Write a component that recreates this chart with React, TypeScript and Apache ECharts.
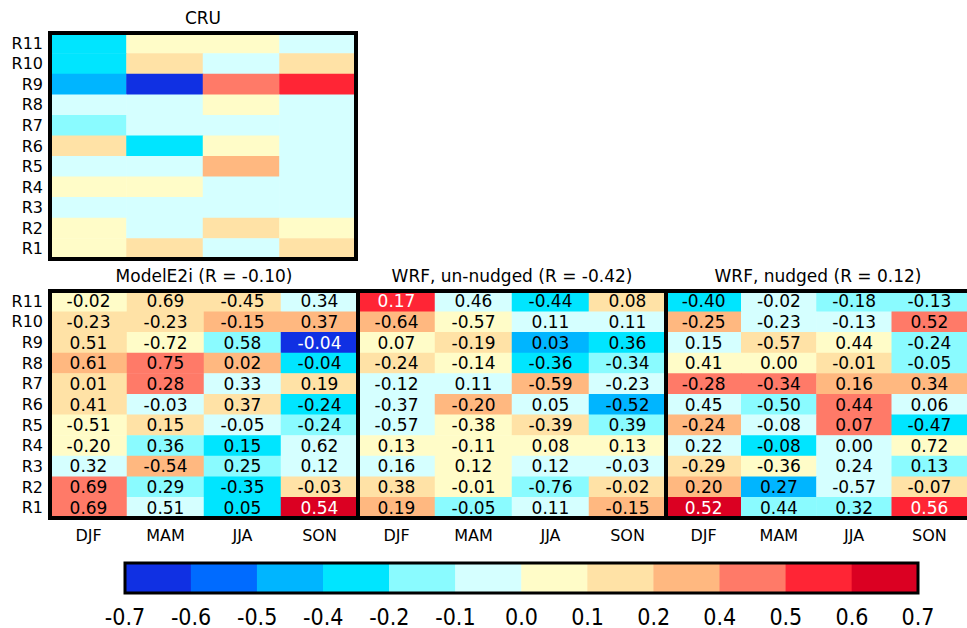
import React, { useEffect, useRef } from "react";
import * as echarts from "echarts";

// ---------- data ----------
const seasons = ["DJF", "MAM", "JJA", "SON"];
const regions = ["R1", "R2", "R3", "R4", "R5", "R6", "R7", "R8", "R9", "R10", "R11"];

// colour-bar bin boundaries and tick labels
const bounds = [-0.7, -0.6, -0.5, -0.4, -0.2, -0.1, 0.0, 0.1, 0.2, 0.4, 0.5, 0.6, 0.7];
const boundLabels = ["-0.7", "-0.6", "-0.5", "-0.4", "-0.2", "-0.1", "0.0", "0.1", "0.2", "0.4", "0.5", "0.6", "0.7"];

// rows listed top (R11) to bottom (R1); columns DJF, MAM, JJA, SON
const cruBias = [
  [-0.3, 0.05, 0.05, -0.05],
  [-0.3, 0.15, -0.05, 0.15],
  [-0.45, -0.65, 0.45, 0.55],
  [-0.05, -0.05, 0.05, -0.05],
  [-0.15, -0.05, -0.05, -0.05],
  [0.15, -0.3, 0.05, -0.05],
  [-0.05, -0.05, 0.3, -0.05],
  [0.05, 0.05, -0.05, -0.05],
  [-0.05, -0.05, -0.05, -0.05],
  [0.05, -0.05, 0.15, 0.05],
  [0.05, 0.15, -0.05, 0.15],
];

const modelBias = [
  [0.05, 0.15, 0.15, -0.05],
  [0.15, 0.15, 0.3, 0.3],
  [0.15, 0.05, -0.15, -0.65],
  [0.3, 0.45, 0.3, -0.3],
  [0.15, 0.45, -0.05, 0.15],
  [0.15, -0.05, 0.15, -0.3],
  [0.05, 0.15, -0.05, -0.15],
  [0.05, -0.15, -0.3, -0.05],
  [-0.05, 0.3, -0.15, -0.05],
  [0.45, -0.15, -0.3, 0.15],
  [0.45, -0.05, -0.3, 0.65],
];
const modelR = [
  [-0.02, 0.69, -0.45, 0.34],
  [-0.23, -0.23, -0.15, 0.37],
  [0.51, -0.72, 0.58, -0.04],
  [0.61, 0.75, 0.02, -0.04],
  [0.01, 0.28, 0.33, 0.19],
  [0.41, -0.03, 0.37, -0.24],
  [-0.51, 0.15, -0.05, -0.24],
  [-0.2, 0.36, 0.15, 0.62],
  [0.32, -0.54, 0.25, 0.12],
  [0.69, 0.29, -0.35, -0.03],
  [0.69, 0.51, 0.05, 0.54],
];

const unBias = [
  [0.55, -0.05, -0.3, 0.15],
  [0.3, 0.05, -0.05, -0.05],
  [0.05, 0.15, -0.45, -0.3],
  [0.15, 0.05, -0.3, -0.15],
  [-0.05, -0.05, 0.3, -0.05],
  [-0.05, 0.3, -0.05, -0.45],
  [-0.05, 0.05, 0.15, -0.15],
  [0.05, 0.05, 0.05, 0.05],
  [-0.05, 0.05, -0.05, -0.05],
  [0.15, 0.05, -0.15, 0.15],
  [0.3, -0.15, -0.05, 0.3],
];
const unR = [
  [0.17, 0.46, -0.44, 0.08],
  [-0.64, -0.57, 0.11, 0.11],
  [0.07, -0.19, 0.03, 0.36],
  [-0.24, -0.14, -0.36, -0.34],
  [-0.12, 0.11, -0.59, -0.23],
  [-0.37, -0.2, 0.05, -0.52],
  [-0.57, -0.38, -0.39, 0.39],
  [0.13, -0.11, 0.08, 0.13],
  [0.16, 0.12, 0.12, -0.03],
  [0.38, -0.01, -0.76, -0.02],
  [0.19, -0.05, 0.11, -0.15],
];

const nuBias = [
  [-0.3, -0.05, -0.15, -0.15],
  [0.3, -0.05, -0.05, 0.45],
  [-0.05, 0.15, 0.05, -0.15],
  [0.05, 0.05, 0.15, -0.15],
  [0.45, 0.45, 0.3, 0.3],
  [-0.05, -0.15, 0.45, -0.05],
  [0.3, -0.05, 0.45, -0.3],
  [-0.05, -0.3, -0.05, 0.05],
  [0.15, 0.05, -0.05, -0.15],
  [0.3, -0.45, -0.05, 0.15],
  [0.65, -0.15, -0.15, 0.55],
];
const nuR = [
  [-0.4, -0.02, -0.18, -0.13],
  [-0.25, -0.23, -0.13, 0.52],
  [0.15, -0.57, 0.44, -0.24],
  [0.41, 0.0, -0.01, -0.05],
  [-0.28, -0.34, 0.16, 0.34],
  [0.45, -0.5, 0.44, 0.06],
  [-0.24, -0.08, 0.07, -0.47],
  [0.22, -0.08, 0.0, 0.72],
  [-0.29, -0.36, 0.24, 0.13],
  [0.2, 0.27, -0.57, -0.07],
  [0.52, 0.44, 0.32, 0.56],
];

const titles = ["CRU", "ModelE2i (R = -0.10)", "WRF, un-nudged (R = -0.42)", "WRF, nudged (R = 0.12)"];

// ---------- styles ----------
const palette = [
  "#1030E3", "#006BFF", "#00B5FF", "#00E5FF", "#8AFBFF", "#D5FFFF",
  "#FFFCC8", "#FFE2A6", "#FFB880", "#FF7A68", "#FF2535", "#DB0022",
];
const FONT = "DejaVu Sans";
const NARROW = "'Liberation Sans Narrow', 'DejaVu Sans Condensed', 'Arial Narrow', sans-serif";

function buildData(bias: number[][], r: number[][] | null) {
  const out: any[] = [];
  bias.forEach((row, i) => {
    row.forEach((b, j) => {
      const y = regions.length - 1 - i;
      const item: any = { value: [j, y, b, r ? r[i][j] : null] };
      if (r) item.label = { color: b <= -0.5 || b >= 0.5 ? "#ffffff" : "#000000" };
      out.push(item);
    });
  });
  return out;
}

export default function App() {
  const ref = useRef<HTMLDivElement>(null);
  useEffect(() => {
    if (!ref.current) return;
    const chart = echarts.init(ref.current, undefined, { renderer: "svg" });

    const panels = [
      { left: 50, top: 33, width: 306, height: 226, bias: cruBias, r: null as any, xl: false },
      { left: 50, top: 291, width: 308, height: 227, bias: modelBias, r: modelR, xl: true },
      { left: 358, top: 291, width: 308, height: 227, bias: unBias, r: unR, xl: true },
      { left: 666, top: 291, width: 308, height: 227, bias: nuBias, r: nuR, xl: true },
    ];
    const cb = { left: 125, top: 563, width: 793, height: 30 };

    const grids: any[] = panels.map((p) => ({ left: p.left, top: p.top, width: p.width, height: p.height }));
    grids.push({ left: cb.left, top: cb.top, width: cb.width, height: cb.height });

    const xAxes: any[] = panels.map((p, i) => ({
      type: "category",
      gridIndex: i,
      data: seasons,
      axisLine: { show: false },
      axisTick: { show: false },
      axisLabel: { show: p.xl, interval: 0, fontSize: 16, color: "#000", fontFamily: FONT, margin: 9 },
      splitLine: { show: false },
    }));
    const yAxes: any[] = panels.map((p, i) => ({
      type: "category",
      gridIndex: i,
      data: regions,
      axisLine: { show: false },
      axisTick: { show: false },
      axisLabel: { show: i < 2, interval: 0, fontSize: 16, color: "#000", fontFamily: FONT, margin: 7 },
      splitLine: { show: false },
    }));
    // colour bar axes
    xAxes.push({
      type: "category",
      gridIndex: 4,
      data: palette.map((_, i) => String(i)),
      show: false,
    });
    xAxes.push({
      type: "value",
      gridIndex: 4,
      min: 0,
      max: 12,
      interval: 1,
      position: "bottom",
      axisLine: { show: false },
      axisTick: { show: false },
      splitLine: { show: false },
      axisLabel: {
        show: true,
        fontSize: 23,
        color: "#000",
        fontFamily: NARROW,
        margin: 13,
        formatter: (v: number) => boundLabels[Math.round(v)] ?? "",
      },
    });
    yAxes.push({ type: "category", gridIndex: 4, data: [""], show: false });

    const series: any[] = panels.map((p, i) => ({
      type: "heatmap",
      xAxisIndex: i,
      yAxisIndex: i,
      data: buildData(p.bias, p.r),
      itemStyle: { borderWidth: 0 },
      label: {
        show: !!p.r,
        fontSize: 17,
        fontFamily: FONT,
        formatter: (prm: any) => (prm.value[3] === null ? "" : Number(prm.value[3]).toFixed(2)),
      },
      emphasis: { disabled: true },
    }));
    const mids = bounds.slice(0, -1).map((b, i) => (b + bounds[i + 1]) / 2);
    series.push({
      type: "heatmap",
      xAxisIndex: 4,
      yAxisIndex: 4,
      data: mids.map((m, i) => [i, 0, m]),
      itemStyle: { borderWidth: 0 },
      label: { show: false },
      emphasis: { disabled: true },
    });

    const pieces = palette.map((c, i) => ({ gte: bounds[i], lt: bounds[i + 1], color: c }));

    const graphics: any[] = [];
    panels.forEach((p, i) => {
      graphics.push({
        type: "rect",
        shape: { x: p.left, y: p.top, width: p.width, height: p.height },
        style: { fill: "none", stroke: "#000", lineWidth: 4 },
        z: 100,
        silent: true,
      });
      graphics.push({
        type: "text",
        x: Math.min(p.left + p.width / 2, 818),
        y: p.top - 15,
        style: {
          text: titles[i],
          fontSize: 17,
          fontFamily: FONT,
          fill: "#000",
          align: "center",
          verticalAlign: "middle",
        },
        z: 100,
      });
    });
    graphics.push({
      type: "rect",
      shape: { x: cb.left, y: cb.top, width: cb.width, height: cb.height },
      style: { fill: "none", stroke: "#000", lineWidth: 3 },
      z: 100,
      silent: true,
    });

    chart.setOption({
      animation: false,
      backgroundColor: "#fff",
      textStyle: { fontFamily: FONT },
      grid: grids,
      xAxis: xAxes,
      yAxis: yAxes,
      visualMap: {
        type: "piecewise",
        show: false,
        dimension: 2,
        seriesIndex: [0, 1, 2, 3, 4],
        pieces,
      },
      series,
      graphic: graphics,
    });
    return () => chart.dispose();
  }, []);
  return (
    <div
      ref={ref}
      style={{ position: "fixed", left: 0, top: 0, width: 967, height: 628 }}
    />
  );
}
